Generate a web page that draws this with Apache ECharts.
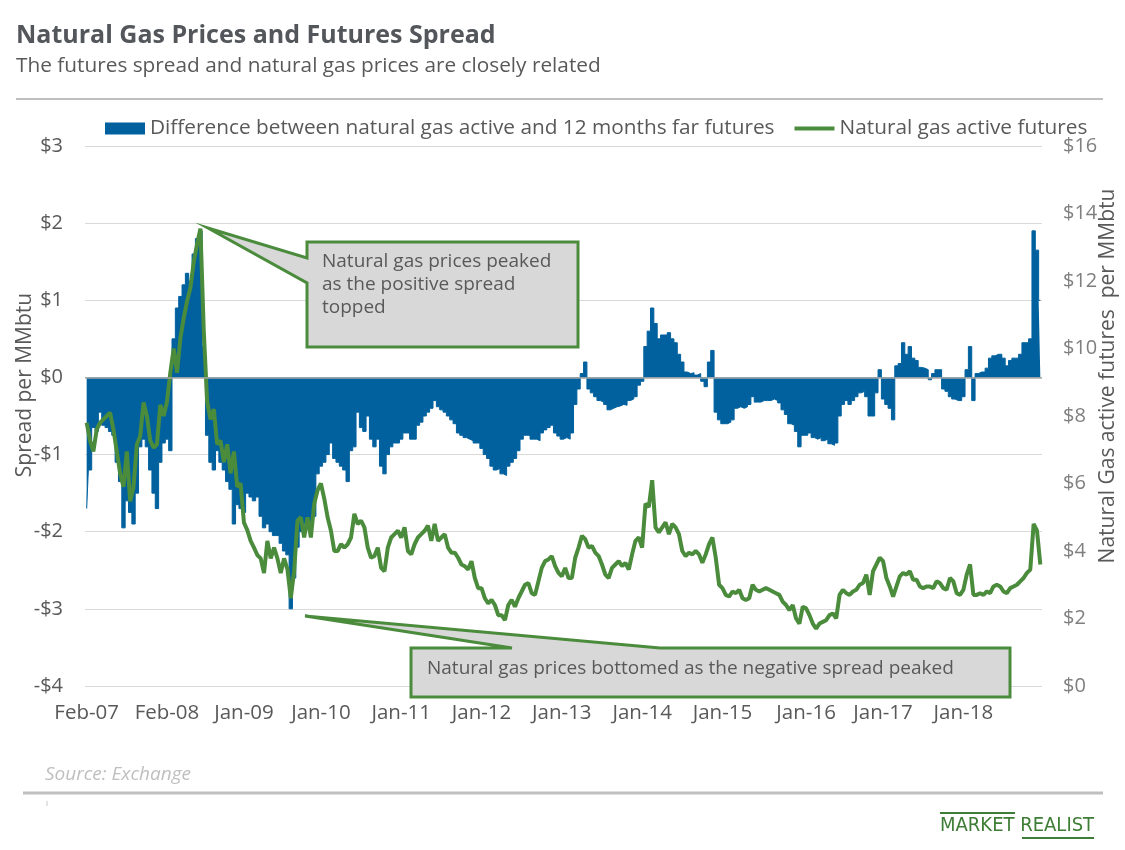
<!DOCTYPE html>
<html>
<head>
<meta charset="utf-8">
<script src="https://cdn.jsdelivr.net/npm/echarts/dist/echarts.min.js"></script>
<style>
  html, body { margin: 0; padding: 0; background: #ffffff; }
  #chart { width: 1125px; height: 850px; }
</style>
</head>
<body>
<div id="chart"></div>
<script>
// ---- Data (semi-monthly samples Feb-2007 .. Dec-2018) ----
const SPREAD_NAME = 'Difference between natural gas active and 12 months far futures';
const PRICE_NAME = 'Natural gas active futures';

const firstYear = 2007, firstMonth = 2, lastYear = 2018, lastMonth = 12;
const categories = [];
for (let y = firstYear; y <= lastYear; y++) {
  for (let m = (y === firstYear ? firstMonth : 1); m <= (y === lastYear ? lastMonth : 12); m++) {
    const mm = (m < 10 ? '0' : '') + m;
    categories.push(y + '-' + mm + '-01');
    categories.push(y + '-' + mm + '-16');
  }
}

// Spread: active minus 12-month-far futures ($/MMbtu)
const spread = [
  -1.7,-1.2,-0.65,-0.7,-0.45,-0.62,-0.65,-0.7,-0.75,-1.1,-1.35,-1.95,-1.6,-1.75,-1.9,-1.5,-0.9,-0.8,-0.9,-1.2,-1.5,-1.7,
  -1.1,-0.85,-0.8,-0.95,0.5,0.9,1.05,1.2,1.35,1.25,1.6,1.8,1.9,0.4,-0.75,-1.1,-1.2,-0.95,-1.1,-1.2,-1.35,-1.45,-1.9,-1.65,
  -1.7,-1.75,-1.5,-1.55,-1.6,-1.55,-1.8,-1.95,-1.9,-2.0,-2.05,-2.05,-2.15,-2.25,-2.3,-3.0,-2.6,-2.2,-2.0,-1.9,-1.85,-1.9,-1.8,-1.25,
  -1.15,-1.1,-1.0,-0.85,-1.05,-1.1,-1.15,-1.2,-1.35,-0.95,-0.9,-0.45,-0.65,-0.7,-0.5,-0.8,-0.9,-0.8,-1.15,-1.25,-1.0,-0.9,-0.85,-0.85,
  -0.8,-0.72,-0.72,-0.8,-0.8,-0.62,-0.58,-0.5,-0.45,-0.4,-0.3,-0.38,-0.42,-0.45,-0.5,-0.55,-0.6,-0.72,-0.75,-0.78,-0.8,-0.82,-0.85,-0.85,
  -0.92,-1.0,-1.05,-1.15,-1.2,-1.18,-1.25,-1.27,-1.15,-1.1,-1.05,-0.95,-0.8,-0.75,-0.75,-0.8,-0.8,-0.82,-0.72,-0.68,-0.65,-0.62,-0.72,-0.76,
  -0.8,-0.78,-0.8,-0.72,-0.35,-0.15,0.05,0.2,-0.15,-0.2,-0.25,-0.3,-0.32,-0.35,-0.42,-0.4,-0.38,-0.37,-0.35,-0.36,-0.3,-0.28,-0.25,-0.1,
  -0.05,0.4,0.6,0.9,0.7,0.5,0.55,0.55,0.58,0.5,0.45,0.3,0.2,0.07,0.05,0.06,0.03,0.05,-0.05,-0.12,0.2,0.35,-0.45,-0.55,
  -0.6,-0.6,-0.58,-0.55,-0.4,-0.38,-0.4,-0.38,-0.35,-0.25,-0.32,-0.32,-0.3,-0.3,-0.3,-0.28,-0.3,-0.33,-0.42,-0.48,-0.6,-0.62,-0.7,-0.9,
  -0.75,-0.75,-0.72,-0.78,-0.8,-0.78,-0.82,-0.8,-0.86,-0.88,-0.85,-0.5,-0.35,-0.3,-0.35,-0.3,-0.25,-0.2,-0.18,-0.25,-0.5,-0.5,-0.2,0.1,
  -0.28,-0.35,-0.4,-0.55,0.15,0.18,0.45,0.3,0.4,0.25,0.22,0.13,0.12,0.1,-0.03,0.05,0.1,0.1,-0.15,-0.18,-0.25,-0.28,-0.3,-0.3,
  -0.25,0.1,0.4,-0.3,0.05,0.07,0.07,0.12,0.25,0.28,0.3,0.3,0.25,0.15,0.22,0.25,0.25,0.3,0.45,0.45,0.5,1.9,1.65,1.0
];

// Natural gas active futures ($/MMbtu)
const price = [
  7.8,7.27,6.95,7.6,7.8,7.9,8.0,8.1,7.6,6.95,6.3,5.9,6.95,5.47,5.9,7.16,7.4,8.4,8.0,7.27,7.06,7.16,
  8.33,8.0,8.43,9.28,10.0,9.28,10.3,10.9,11.4,11.8,12.56,13.1,13.55,10.5,8.43,7.9,8.2,7.16,7.27,6.63,7.16,6.3,6.95,5.9,
  6.0,4.84,4.62,4.3,4.1,3.88,3.78,3.35,4.3,3.78,4.1,3.78,3.35,3.78,3.46,2.6,3.4,4.9,5.0,4.4,5.0,4.4,5.4,5.8,
  6.0,5.55,5.0,4.6,4.0,4.0,4.2,4.1,4.2,4.4,5.1,4.8,4.9,4.7,4.1,3.8,3.85,4.1,3.5,3.4,4.1,4.4,4.5,4.6,
  4.4,4.7,4.0,3.9,4.2,4.4,4.5,4.6,4.75,4.3,4.8,4.3,4.4,4.5,4.1,3.95,3.95,3.8,3.6,3.55,3.45,3.7,3.2,2.9,
  2.9,2.6,2.45,2.55,2.4,2.1,2.1,1.95,2.4,2.55,2.35,2.6,2.8,3.0,3.05,2.75,2.7,3.1,3.5,3.7,3.75,3.85,3.55,3.35,
  3.25,3.5,3.2,3.2,3.8,4.1,4.45,4.35,4.1,4.15,3.95,3.85,3.6,3.3,3.2,3.5,3.6,3.7,3.55,3.65,3.45,3.9,4.3,4.4,
  4.1,5.4,5.3,6.1,4.7,4.55,4.7,4.85,4.5,4.8,4.7,4.5,4.0,3.85,3.95,3.9,4.0,3.9,3.65,3.9,4.2,4.4,3.8,3.0,
  2.9,2.7,2.65,2.8,2.75,2.85,2.6,2.55,2.6,3.0,2.85,2.8,2.85,2.9,2.85,2.8,2.75,2.7,2.5,2.4,2.25,2.4,2.0,1.85,
  2.35,2.3,2.1,1.85,1.7,1.85,1.9,1.95,2.1,2.15,2.0,2.7,2.85,2.75,2.7,2.8,2.85,3.0,3.05,3.3,2.7,3.4,3.6,3.8,
  3.7,3.2,2.95,2.65,2.95,3.25,3.35,3.3,3.4,3.15,3.15,2.95,2.9,2.95,2.95,2.9,3.1,3.05,2.9,2.85,3.2,3.1,2.75,2.7,
  2.85,3.3,3.6,2.7,2.7,2.75,2.7,2.8,2.75,2.95,3.0,2.95,2.8,2.75,2.9,2.95,3.0,3.1,3.2,3.35,3.45,4.8,4.6,3.6
];

// x-axis tick labels and the sample at which each one is shown
const tickCategories = ['2007-02-01','2008-02-01','2009-01-16','2010-01-01','2011-01-01','2012-01-01',
                        '2013-01-01','2014-01-01','2015-01-01','2016-01-16','2017-01-01','2018-01-01'];
const tickLabels = ['Feb-07','Feb-08','Jan-09','Jan-10','Jan-11','Jan-12',
                    'Jan-13','Jan-14','Jan-15','Jan-16','Jan-17','Jan-18'];

// ---- Chart ----
const tickMap = {};
tickCategories.forEach((c, i) => { tickMap[c] = tickLabels[i]; });

const BLUE = '#00619e';
const GREEN = '#4a8b3c';
const FONT = '"Open Sans", "Noto Sans", sans-serif';

const chart = echarts.init(document.getElementById('chart'), null, { renderer: 'canvas' });

const option = {
  animation: false,
  backgroundColor: '#ffffff',
  textStyle: { fontFamily: FONT },
  grid: { left: 85, right: 83, top: 146, bottom: 164, containLabel: false },
  legend: {
    left: 105, top: 118, padding: 0,
    itemWidth: 40, itemHeight: 12, itemGap: 20,
    textStyle: { fontSize: 20.8, color: '#595959', fontFamily: FONT },
    data: [
      { name: SPREAD_NAME, icon: 'rect' },
      { name: PRICE_NAME, icon: 'path://M0,0 L42,0 L42,4 L0,4 Z' }
    ]
  },
  xAxis: {
    type: 'category',
    data: categories,
    boundaryGap: true,
    axisLine: { show: false },
    axisTick: { show: false },
    splitLine: { show: false },
    axisLabel: {
      interval: (idx, val) => tickMap[val] !== undefined,
      formatter: (val) => tickMap[val] || '',
      color: '#595959', fontSize: 20.5, margin: 17, fontFamily: FONT
    }
  },
  yAxis: [
    {
      type: 'value', min: -4, max: 3, interval: 1, position: 'left',
      axisLine: { show: false }, axisTick: { show: false },
      splitLine: { lineStyle: { color: '#d9d9d9', width: 1 } },
      axisLabel: {
        formatter: (v) => (v < 0 ? '-$' + Math.abs(v) : '$' + v),
        color: '#595959', fontSize: 20, margin: 22, fontFamily: FONT
      }
    },
    {
      type: 'value', min: 0, max: 16, interval: 2, position: 'right',
      axisLine: { show: false }, axisTick: { show: false },
      splitLine: { show: false },
      axisLabel: {
        formatter: (v) => '$' + v,
        color: '#7f7f7f', fontSize: 20, margin: 21, fontFamily: FONT
      }
    }
  ],
  series: [
    {
      // drawn as a stepped column area so adjacent daily-style columns merge without seams
      name: SPREAD_NAME, type: 'line', step: 'middle', yAxisIndex: 0, data: spread,
      symbol: 'none', showSymbol: false,
      lineStyle: { color: BLUE, width: 1 },
      itemStyle: { color: BLUE },
      areaStyle: { color: BLUE, opacity: 1, origin: 0 },
      z: 2,
      markLine: {
        silent: true, symbol: ['none', 'none'], label: { show: false },
        lineStyle: { color: '#a6a6a6', width: 1.5, type: 'solid' },
        data: [ { yAxis: 0 } ]
      }
    },
    {
      name: PRICE_NAME, type: 'line', yAxisIndex: 1, data: price,
      symbol: 'none', showSymbol: false,
      lineStyle: { color: GREEN, width: 4 },
      itemStyle: { color: GREEN },
      z: 3
    }
  ],
  graphic: [
    { type: 'text', x: 16, y: 36, z: 100,
      style: { text: 'Natural Gas Prices and Futures Spread', font: 'bold 25px ' + FONT, fill: '#53565a', textVerticalAlign: 'middle' } },
    { type: 'text', x: 16, y: 66, z: 100,
      style: { text: 'The futures spread and natural gas prices are closely related', font: '20.8px ' + FONT, fill: '#595959', textVerticalAlign: 'middle' } },
    { type: 'line', z: 100, shape: { x1: 16, y1: 99, x2: 1103, y2: 99 }, style: { stroke: '#bfbfbf', lineWidth: 2 } },

    { type: 'text', x: 25, y: 385, rotation: Math.PI / 2, z: 100,
      style: { text: 'Spread per MMbtu', font: '21px ' + FONT, fill: '#595959', textAlign: 'center', textVerticalAlign: 'middle' } },
    { type: 'text', x: 1108, y: 376, rotation: Math.PI / 2, z: 100,
      style: { text: 'Natural Gas active futures  per MMbtu', font: '21px ' + FONT, fill: '#595959', textAlign: 'center', textVerticalAlign: 'middle' } },

    { type: 'polygon', z: 100,
      shape: { points: [[307,242],[578,242],[578,347],[307,347],[307,283],[208,228],[307,258]] },
      style: { fill: '#d8d8d8', stroke: GREEN, lineWidth: 3, lineJoin: 'miter' } },
    { type: 'text', x: 322, y: 250.5, z: 101,
      style: { text: 'Natural gas prices peaked\nas the positive spread\ntopped', font: '19px ' + FONT, lineHeight: 23, fill: '#595959', textVerticalAlign: 'top' } },

    { type: 'polygon', z: 100,
      shape: { points: [[411,648],[512,648],[305,616],[660,648],[1010,648],[1010,697],[411,697]] },
      style: { fill: '#d8d8d8', stroke: GREEN, lineWidth: 3, lineJoin: 'miter' } },
    { type: 'text', x: 427, y: 669, z: 101,
      style: { text: 'Natural gas prices bottomed as the negative spread peaked', font: '19px ' + FONT, fill: '#595959', textVerticalAlign: 'middle' } },

    { type: 'text', x: 45, y: 775, z: 100,
      style: { text: 'Source: Exchange', font: 'italic 19px ' + FONT, fill: '#bfbfbf', textVerticalAlign: 'middle' } },
    { type: 'line', z: 100, shape: { x1: 23, y1: 793, x2: 1103, y2: 793 }, style: { stroke: '#bfbfbf', lineWidth: 3 } },
    { type: 'line', z: 100, shape: { x1: 47, y1: 801, x2: 47, y2: 806 }, style: { stroke: '#c8c8c8', lineWidth: 1 } },

    { type: 'text', x: 940, y: 826, z: 100,
      style: { text: 'MARKET REALIST', font: '20px "Liberation Sans Narrow", "DejaVu Sans Condensed", sans-serif', fill: '#3e7d35', textVerticalAlign: 'middle' } },
    { type: 'line', z: 100, shape: { x1: 940, y1: 813, x2: 1015, y2: 813 }, style: { stroke: '#3e7d35', lineWidth: 2 } },
    { type: 'line', z: 100, shape: { x1: 1022, y1: 838, x2: 1094, y2: 838 }, style: { stroke: '#3e7d35', lineWidth: 2 } }
  ]
};

chart.setOption(option);
</script>
</body>
</html>
